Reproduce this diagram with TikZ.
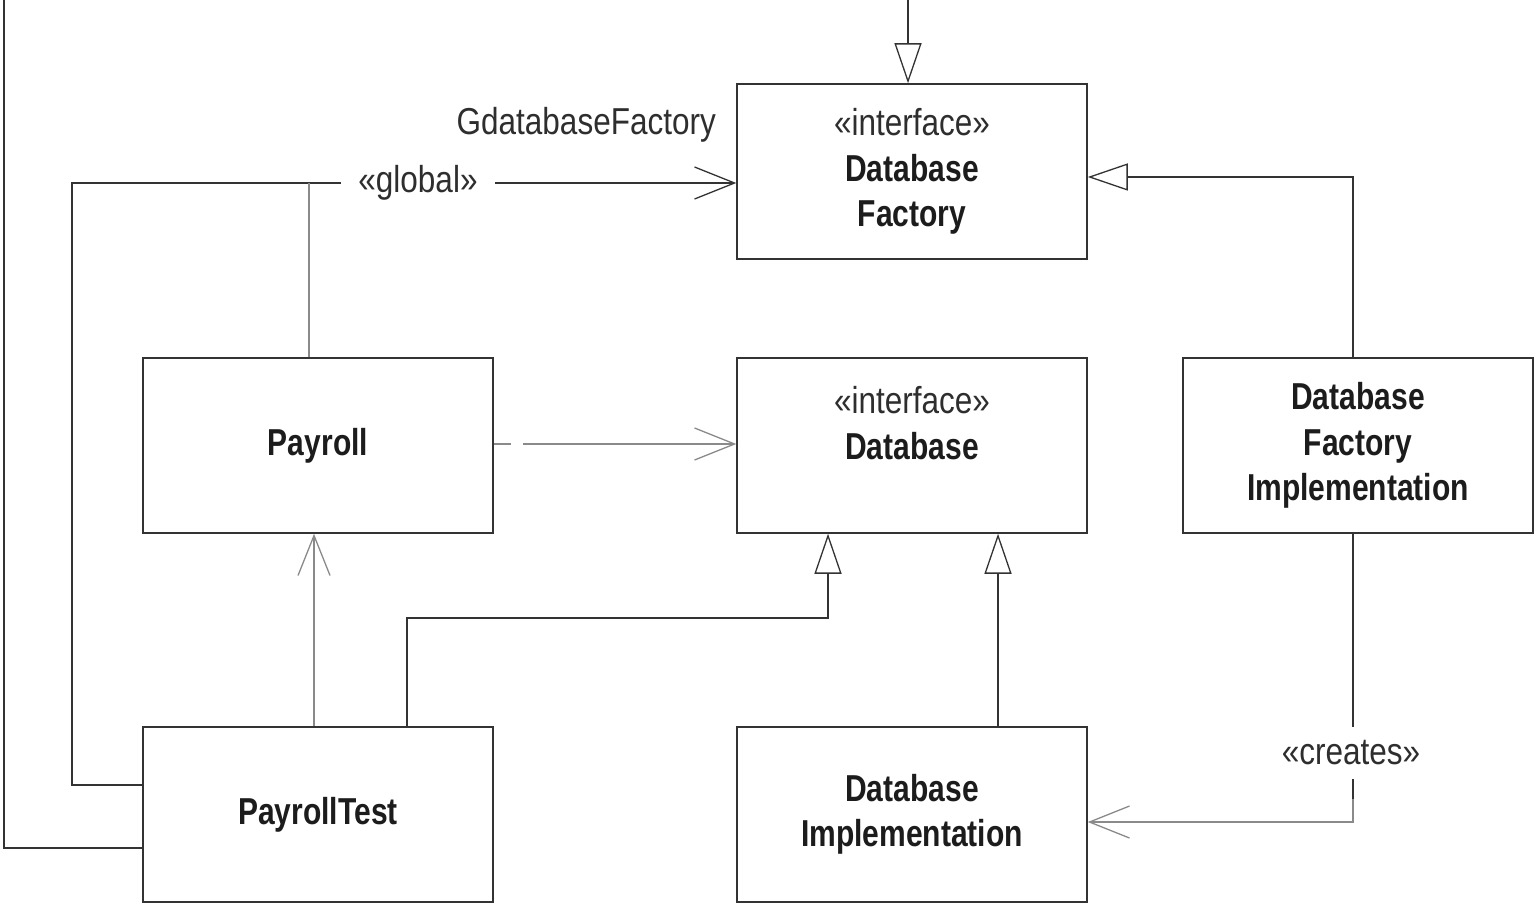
\documentclass[tikz,border=0pt]{standalone}
\usepackage{fontspec}
\usetikzlibrary{arrows.meta}
\newfontfamily\regc[FakeStretch=0.84]{Liberation Sans}
\newfontfamily\boldc[FakeStretch=0.80]{Liberation Sans}
\definecolor{ink}{HTML}{1C1C1C}
\definecolor{inkr}{HTML}{2E2E2E}
\definecolor{ln}{HTML}{333333}
\definecolor{gl}{HTML}{8A8A8A}
\tikzset{
  x=1pt, y=-1pt,
  cls/.style={draw=ln, line width=1.5pt, rectangle, minimum width=350pt, minimum height=175pt,
    align=center, text=ink, font=\boldc\bfseries\fontsize{37.5}{45.5}\selectfont, inner sep=0pt},
  lbl/.style={text=inkr, font=\regc\fontsize{37.5}{45.5}\selectfont, inner sep=0pt},
  conn/.style={draw=ln, line width=1.4pt},
  gconn/.style={draw=gl, line width=1.4pt},
  openarr/.style={-{Straight Barb[length=40pt, width=32pt, line width=1.3pt]}},
  triarr/.style={-{Triangle[open, length=40pt, width=27pt, line width=1.3pt, fill=white]}},
}
\begin{document}
\begin{tikzpicture}
\useasboundingbox (0,0) rectangle (1537,909);
\fill[white] (0,0) rectangle (1537,909);
\begin{scope}
\clip (0,0) rectangle (1537,909);
% boxes
\node[cls] (dbf) at (912,171.5) {{\regc\mdseries\color{inkr}«interface»}\\Database\\Factory};
\node[cls] (db) at (912,445.5) {{\regc\mdseries\color{inkr}«interface»}\\Database\\\mbox{}};
\node[cls] (dbfi) at (1358,445.5) {Database\\Factory\\Implementation};
\node[cls] (pay) at (318,445.5) {Payroll};
\node[cls] (pt) at (318,814.5) {PayrollTest};
\node[cls] (dbi) at (912,814.5) {Database\\Implementation};
% connectors
\draw[conn, triarr] (pt.west |- 0,848) -| (4,-40) -| ([xshift=-4pt]dbf.north);
\draw[conn, openarr] (pt.west |- 0,785) -| (72,183) -- (dbf.west |- 0,183);
\draw[gconn] (pay.north -| 309,0) -- (309,183);
\draw[gconn, openarr, dash pattern=on 17pt off 12pt on 400pt off 0pt] (pay.east |- 0,444) -- (db.west |- 0,444);
\draw[gconn, openarr] (pt.north -| 314,0) -- (pay.south -| 314,0);
\draw[conn, triarr] (pt.north -| 407,0) |- (828,618) -- (db.south -| 828,0);
\draw[conn, triarr] (dbi.north -| 998,0) -- (db.south -| 998,0);
\draw[conn, triarr] (dbfi.north -| 1353,0) |- (dbf.east |- 0,177);
\draw[conn] (dbfi.south -| 1353,0) -- (1353,800);
\draw[gconn, openarr] (1353,799) |- (dbi.east |- 0,822);
% labels
\node[lbl, fill=white, inner xsep=17pt, inner ysep=6pt] (glob) at (418,183) {«global»};
\node[lbl, anchor=east] (gdf) at (716,125) {GdatabaseFactory};
\node[lbl, fill=white, inner xsep=6pt, inner ysep=14pt] (crt) at (1351,753) {«creates»};
\end{scope}
\end{tikzpicture}
\end{document}
